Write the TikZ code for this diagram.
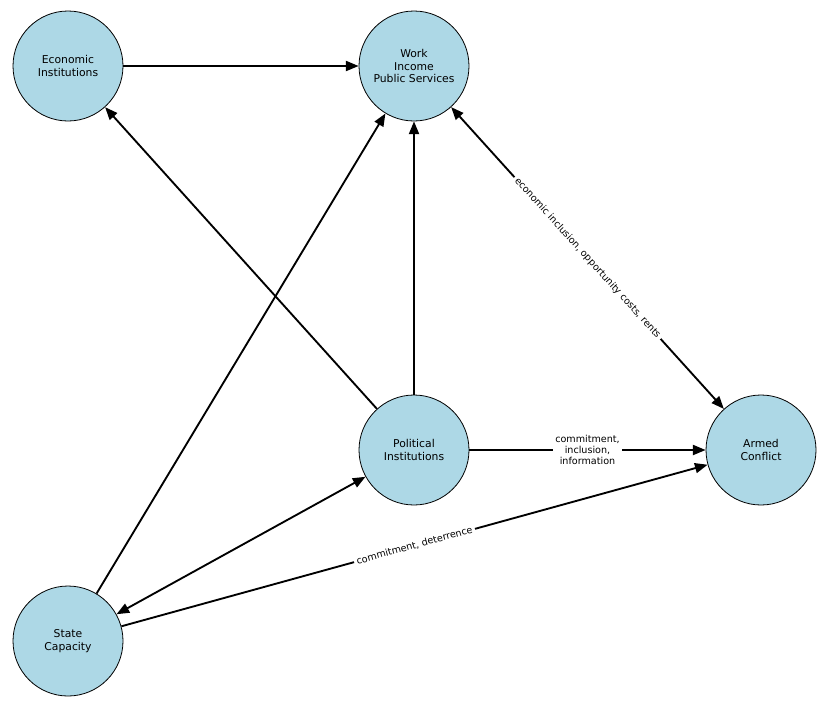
\documentclass[tikz,border=0pt]{standalone}
\usepackage{fontspec}
\setmainfont{DejaVu Sans}
\usetikzlibrary{arrows.meta}

\begin{document}
\begin{tikzpicture}[
    x=0.75pt,y=-0.75pt,
    >={Triangle[length=9.5pt,width=7.5pt]},
    factor/.style={circle,draw=black,line width=.6pt,fill={rgb,255:red,173;green,216;blue,230},
        minimum size=82.5pt,inner sep=0pt,align=center,font=\fontsize{8.1}{9.6}\selectfont},
    flow/.style={->,line width=1.4pt,draw=black},
    twoway/.style={<->,line width=1.4pt,draw=black},
    tag/.style={font=\fontsize{7.2}{8.2}\selectfont,fill=white,inner sep=2pt,align=center}]
\useasboundingbox (0,0) rectangle (830,707);
\node[factor] (econ) at (68,66) {Economic\\Institutions};
\node[factor] (work) at (414,66) {Work\\Income\\Public Services};
\node[factor] (political) at (414,450) {Political\\Institutions};
\node[factor] (conflict) at (761,450) {Armed\\Conflict};
\node[factor] (state) at (68,641) {State\\Capacity};
\draw[flow] (econ)--(work);
\draw[flow] (political)--(econ);
\draw[flow] (political)--(work);
\draw[flow] (state)--(work);
\draw[twoway] (political)--(state);
\draw[flow] (political)--(conflict) node[midway,tag] {commitment,\\inclusion,\\information};
\draw[flow] (state)--(conflict) node[midway,sloped,tag] {commitment, deterrence};
\draw[twoway] (work)--(conflict) node[midway,sloped,tag] {economic inclusion, opportunity costs, rents};
\end{tikzpicture}
\end{document}
